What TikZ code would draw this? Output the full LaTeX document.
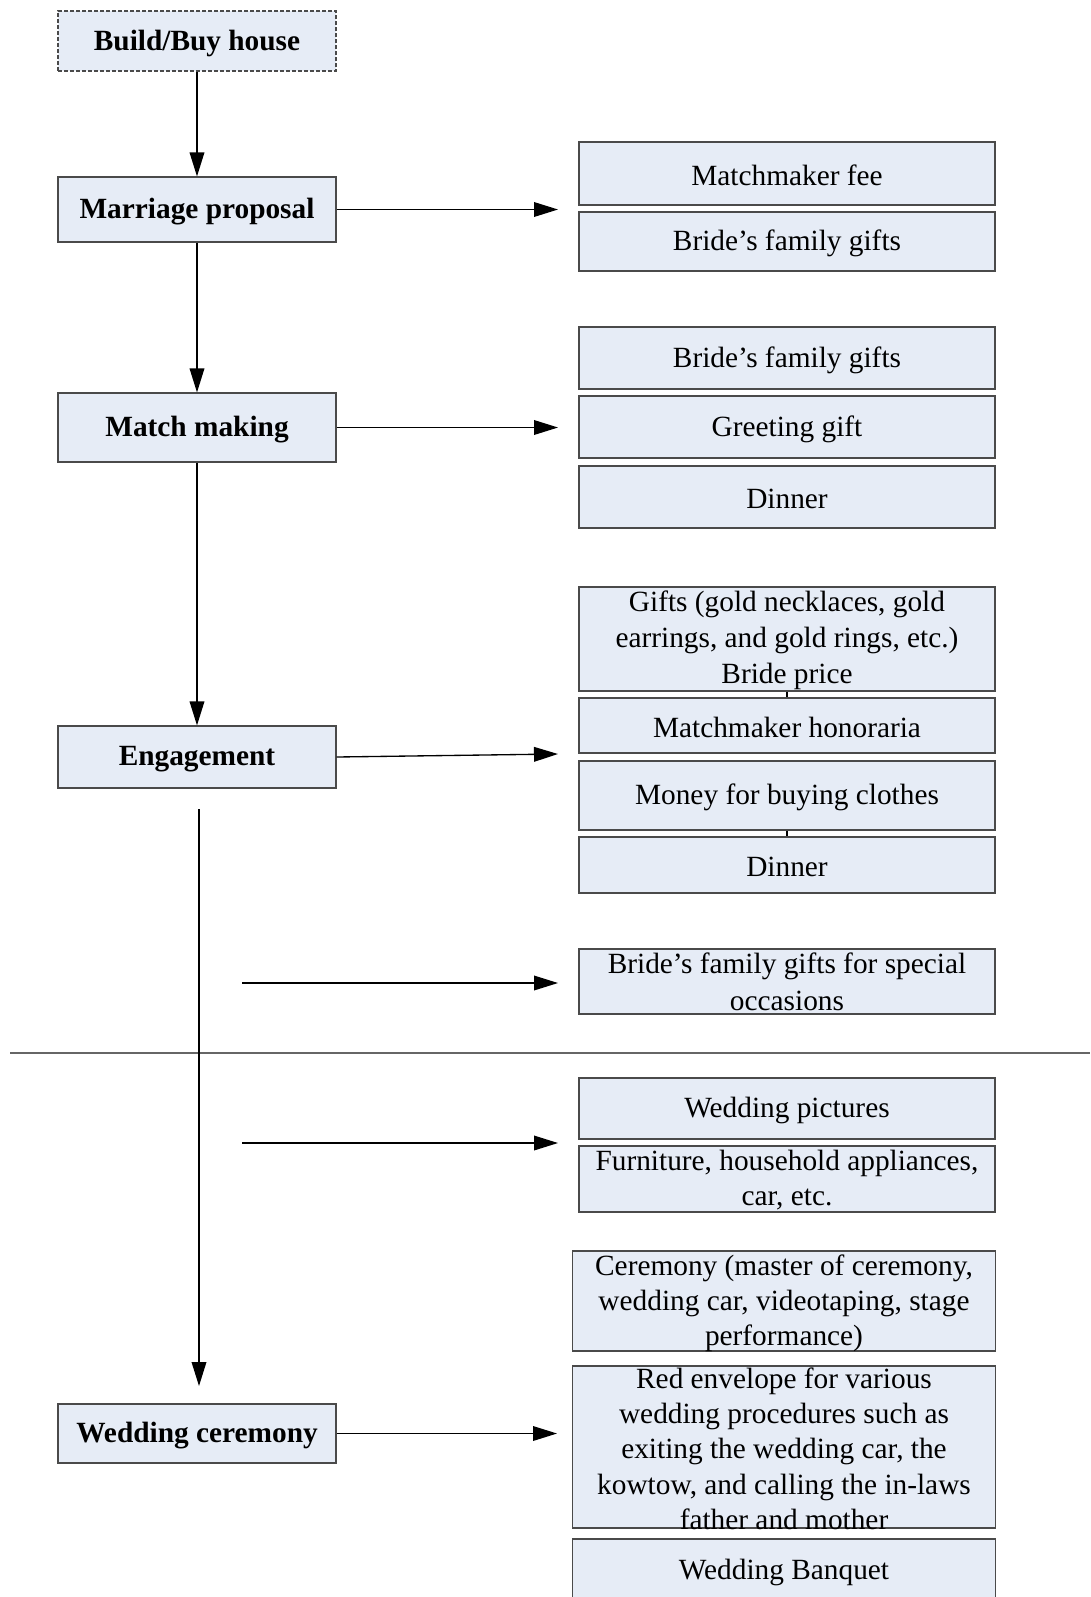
\documentclass[tikz,border=0pt]{standalone}
\usepackage{fontspec}
\setmainfont{Liberation Serif}
\usetikzlibrary{arrows.meta}
\definecolor{boxfill}{HTML}{E6ECF6}
\definecolor{boxline}{HTML}{4A4A4A}
\tikzset{
  box/.style={draw=boxline, fill=boxfill, line width=0.9pt, inner sep=0pt, rectangle},
  lbox/.style={box, minimum width=278*0.75pt},
  rbox/.style={box, minimum width=416*0.75pt},
  cbox/.style={box, minimum width=423*0.75pt},
  lab/.style={font=\fontsize{22}{27}\selectfont, align=center, inner sep=0pt, yshift=-1.6pt},
  blab/.style={lab, font=\fontsize{22}{27}\selectfont\bfseries},
  arr/.style={line width=1pt, -{Triangle[length=18pt,width=11pt]}},
  plain/.style={line width=1pt},
  tick/.style={line width=0.8pt, draw=black},
  sep/.style={line width=0.8pt, draw=black!60},
}
\begin{document}
\begin{tikzpicture}[x=0.75pt,y=-0.75pt]
\useasboundingbox (0,0) rectangle (1090,1597);

% left column
\node[lbox, dash pattern=on 3pt off 1.5pt, minimum height=60*0.75pt] (build) at (197,41) {};
\node[blab] (buildt) at (build) {Build/Buy house};
\node[lbox, minimum height=65*0.75pt] (prop) at (197,209.5) {};
\node[blab] (propt) at (prop) {Marriage proposal};
\node[lbox, minimum height=69*0.75pt] (match) at (197,427.5) {};
\node[blab] (matcht) at (match) {Match making};
\node[lbox, minimum height=62*0.75pt] (eng) at (197,757) {};
\node[blab] (engt) at (eng) {Engagement};
\node[lbox, minimum height=59*0.75pt] (wed) at (197,1433.5) {};
\node[blab] (wedt) at (wed) {Wedding ceremony};

% right column
\node[rbox, minimum height=63*0.75pt] (r1) at (787,173.5) {};
\node[lab] (r1t) at (r1) {Matchmaker fee};
\node[rbox, minimum height=59*0.75pt] (r2) at (787,241.5) {};
\node[lab] (r2t) at (r2) {Bride’s family gifts};

\node[rbox, minimum height=62*0.75pt] (r3) at (787,358) {};
\node[lab] (r3t) at (r3) {Bride’s family gifts};
\node[rbox, minimum height=62*0.75pt] (r4) at (787,427) {};
\node[lab] (r4t) at (r4) {Greeting gift};
\node[rbox, minimum height=62*0.75pt] (r5) at (787,497) {};
\node[lab] (r5t) at (r5) {Dinner};

\node[rbox, minimum height=104*0.75pt] (r6) at (787,639) {};
\node[lab] (r6t) at (787,638) {Gifts (gold necklaces, gold\\earrings, and gold rings, etc.)\\Bride price};
\node[rbox, minimum height=55*0.75pt] (r7) at (787,725.5) {};
\node[lab] (r7t) at (r7) {Matchmaker honoraria};
\node[rbox, minimum height=69*0.75pt] (r8) at (787,795.5) {};
\node[lab] (r8t) at (r8) {Money for buying clothes};
\node[rbox, minimum height=56*0.75pt] (r9) at (787,865) {};
\node[lab] (r9t) at (r9) {Dinner};

\node[rbox, minimum height=65*0.75pt] (r10) at (787,981.5) {};
\node[lab, font=\fontsize{22}{28}\selectfont] (r10t) at (787,980) {Bride’s family gifts for special\\occasions};

\node[rbox, minimum height=61*0.75pt] (r11) at (787,1108.5) {};
\node[lab] (r11t) at (r11) {Wedding pictures};
\node[rbox, minimum height=66*0.75pt] (r12) at (787,1179) {};
\node[lab, font=\fontsize{22}{26.8}\selectfont] (r12t) at (787,1178) {Furniture, household appliances,\\car, etc.};

\node[cbox, minimum height=100*0.75pt] (r13) at (784,1301) {};
\node[lab, font=\fontsize{22}{26}\selectfont] (r13t) at (784,1301) {Ceremony (master of ceremony,\\wedding car, videotaping, stage\\performance)};
\node[cbox, minimum height=162*0.75pt] (r14) at (784,1447) {};
\node[lab, font=\fontsize{22}{26.5}\selectfont] (r14t) at (784,1446.5) {Red envelope for various\\wedding procedures such as\\exiting the wedding car, the\\kowtow, and calling the in-laws\\father and mother};
\node[cbox, minimum height=82*0.75pt] (r15) at (784,1580) {};
\node[lab] (r15t) at (784,1570) {Wedding Banquet};

% small connectors between stacked boxes
\draw[tick] (r6.south) -- (r7.north);
\draw[tick] (r8.south) -- (r9.north);

% separator
\coordinate (sepL) at (10,1053);
\coordinate (sepR) at (1090,1053);
\draw[sep] (sepL) -- (sepR);

% vertical flow
\draw[arr] (build.south) -- (prop.north);
\draw[arr] (prop.south) -- (match.north);
\draw[arr] (match.south) -- (eng.north);
\coordinate (vtop) at (199,809);
\coordinate (vbot) at (199,1386);
\draw[arr] (vtop) -- (vbot);

% horizontal arrows
\coordinate (a1) at (558,209.5);
\coordinate (a2) at (558,427.5);
\coordinate (a3) at (558,754);
\coordinate (a4s) at (242,983);
\coordinate (a4) at (558,983);
\coordinate (a5s) at (242,1143);
\coordinate (a5) at (558,1143);
\coordinate (a6) at (557,1433.5);
\draw[arr] (prop.east) -- (a1);
\draw[arr] (match.east) -- (a2);
\draw[arr] (eng.east) -- (a3);
\draw[arr] (a4s) -- (a4);
\draw[arr] (a5s) -- (a5);
\draw[arr] (wed.east) -- (a6);
\end{tikzpicture}
\end{document}
